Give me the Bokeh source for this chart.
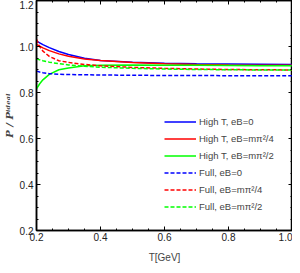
from bokeh.plotting import figure
from bokeh.models import Range1d, FixedTicker, LinearAxis, Legend, LegendItem, PrintfTickFormatter
from bokeh.embed import file_html
from bokeh.resources import INLINE

T = [0.2, 0.21, 0.22, 0.24, 0.27, 0.3, 0.35, 0.4, 0.5, 0.6, 0.7, 0.8, 0.9, 1.0]
hight_eb0 = [1.024, 1.016, 1.008, 0.995, 0.978, 0.965, 0.949, 0.939, 0.931, 0.927, 0.925, 0.924, 0.923, 0.922]
hight_eb4 = [1.009, 1.001, 0.994, 0.982, 0.968, 0.958, 0.946, 0.939, 0.930, 0.925, 0.922, 0.920, 0.919, 0.918]
hight_eb2 = [0.816, 0.838, 0.855, 0.879, 0.899, 0.907, 0.916, 0.919, 0.920, 0.919, 0.918, 0.917, 0.916, 0.916]
full_eb0 = [0.893, 0.889, 0.886, 0.882, 0.879, 0.878, 0.877, 0.876, 0.875, 0.874, 0.874, 0.873, 0.873, 0.873]
full_eb4 = [1.031, 1.000, 0.980, 0.957, 0.938, 0.931, 0.922, 0.916, 0.909, 0.905, 0.902, 0.900, 0.899, 0.898]
full_eb2 = [0.947, 0.942, 0.938, 0.932, 0.925, 0.920, 0.914, 0.910, 0.905, 0.902, 0.900, 0.899, 0.898, 0.898]

labels = ["High T, eB=0", "High T, eB=m\u03c0\u00b2/4", "High T, eB=m\u03c0\u00b2/2",
          "Full, eB=0", "Full, eB=m\u03c0\u00b2/4", "Full, eB=m\u03c0\u00b2/2"]
series = [hight_eb0, hight_eb4, hight_eb2, full_eb0, full_eb4, full_eb2]
colors = ["#0000ff", "#ff0000", "#00ff00", "#0000ff", "#ff0000", "#00ff00"]
dashes = ["solid", "solid", "solid", "4 2", "4 2", "4 2"]

x_ticks = [0.2, 0.4, 0.6, 0.8, 1.0]
y_ticks = [0.2, 0.4, 0.6, 0.8, 1.0, 1.2]
x_minor = [round(0.2 + 0.05 * i, 3) for i in range(17)]
y_minor = [round(0.2 + 0.05 * i, 3) for i in range(21)]

p = figure(width=292, height=265, output_backend="svg", toolbar_location=None,
           x_range=Range1d(0.2, 1.0), y_range=Range1d(0.2, 1.2),
           min_border_left=0, min_border_right=0, min_border_top=0, min_border_bottom=0)
p.xgrid.visible = False
p.ygrid.visible = False
p.outline_line_color = "black"
p.outline_line_width = 1.5

FONT = "Liberation Sans"

def style_axis(ax, ticks, minor, show_labels=True):
    ax.ticker = FixedTicker(ticks=ticks, minor_ticks=minor)
    ax.formatter = PrintfTickFormatter(format="%.1f")
    ax.major_tick_in = 4
    ax.major_tick_out = 0
    ax.minor_tick_in = 2
    ax.minor_tick_out = 0
    ax.axis_line_color = "black"
    ax.axis_line_width = 1.5
    ax.major_tick_line_color = "black"
    ax.minor_tick_line_color = "black"
    ax.major_label_text_font = FONT
    ax.major_label_text_font_size = "10px" if show_labels else "0px"
    ax.major_label_text_color = "#222222"
    if not show_labels:
        ax.major_label_text_alpha = 0
        ax.major_label_standoff = 0

style_axis(p.xaxis[0], x_ticks, x_minor)
style_axis(p.yaxis[0], y_ticks, y_minor)
p.xaxis[0].major_label_standoff = 2
p.yaxis[0].major_label_standoff = 3
p.xaxis[0].axis_label = "T[GeV]"
p.xaxis[0].axis_label_text_font = FONT
p.xaxis[0].axis_label_text_font_size = "10px"
p.xaxis[0].axis_label_text_font_style = "normal"
p.xaxis[0].axis_label_standoff = 8
p.yaxis[0].axis_label = "P / P\u2071\u1d48\u1d49\u1d43\u02e1"
p.yaxis[0].axis_label_text_font = "DejaVu Serif"
p.yaxis[0].axis_label_text_font_size = "10px"
p.yaxis[0].axis_label_text_font_style = "bold italic"
p.yaxis[0].axis_label_standoff = 2

top = LinearAxis()
right = LinearAxis()
style_axis(top, x_ticks, x_minor, show_labels=False)
style_axis(right, y_ticks, y_minor, show_labels=False)
p.add_layout(top, "above")
p.add_layout(right, "right")

items = []
for lab, ys, c, d in zip(labels, series, colors, dashes):
    r = p.line(T, ys, line_color=c, line_width=1.5, line_dash=d)
    items.append(LegendItem(label=lab, renderers=[r]))

legend = Legend(items=items, location=(128, 15), background_fill_alpha=0,
                border_line_alpha=0, spacing=0, padding=0, margin=0,
                glyph_width=32, glyph_height=17, label_height=17,
                label_standoff=3, label_text_font=FONT, label_text_font_size="9.5px")
p.add_layout(legend, "center")

open("out.html", "w").write(file_html(p, INLINE))
